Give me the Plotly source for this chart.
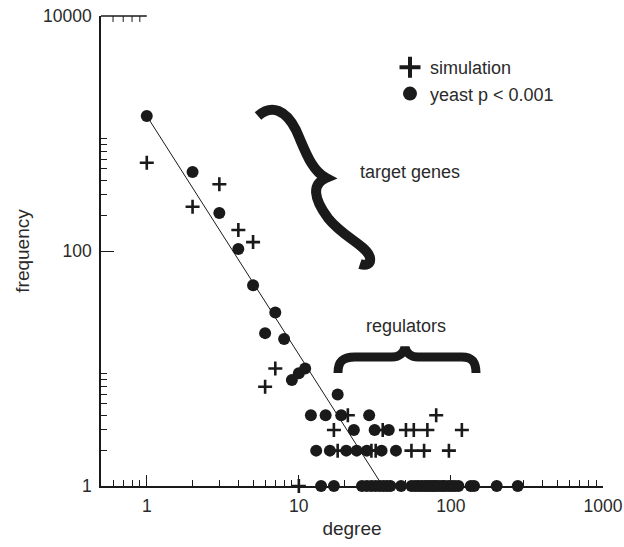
import math
import plotly.graph_objects as go

# ---------------- data ----------------
yeast_degree = [1, 2, 3, 4, 5, 6, 7, 8, 9, 10, 11, 18,
                12, 15, 19, 29,
                23, 31.5, 39,
                13, 16, 20.5, 24, 28, 35, 43.5,
                14, 17, 26, 28, 30, 32, 34, 36, 38, 40, 47, 55, 58, 61, 64, 67, 70, 73,
                76, 79, 83, 87, 91, 96, 101, 106, 112, 135, 142, 200, 275]
yeast_freq = [1410, 470, 211, 104, 51, 20, 30, 17.8, 8, 9.1, 10, 6,
              4, 4, 4, 4,
              3, 3, 3,
              2, 2, 2, 2, 2, 2, 2,
              1, 1, 1, 1, 1, 1, 1, 1, 1, 1, 1, 1, 1, 1, 1, 1, 1, 1,
              1, 1, 1, 1, 1, 1, 1, 1, 1, 1, 1, 1, 1]

sim_degree = [1, 2, 3, 4, 5, 6, 7, 10,
              21, 80,
              17, 35.6, 50.6, 57, 70, 118,
              18, 30, 32, 55, 66.6, 97]
sim_freq = [564, 238, 370, 151, 119, 7, 10, 1,
            4, 4,
            3, 3, 3, 3, 3, 3,
            2, 2, 2, 2, 2, 2]

# power-law fit line: freq = fit_a * degree^(-fit_b)
fit_a = 1410
fit_b = 2.03
fit_degree = [1, 35.4]
fit_freq = [fit_a * d ** (-fit_b) for d in fit_degree]

x_tick_vals = [1, 10, 100, 1000]
x_tick_text = ["1", "10", "100", "1000"]
y_tick_vals = [1, 100, 10000]
y_tick_text = ["1", "100", "10000"]
x_minor = [0.6, 0.7, 0.8, 0.9] + [m * 10 ** e for e in range(0, 3) for m in range(2, 10)]
y_minor = [m for m in range(2, 10)] + [m * 100 for m in range(2, 10)]

# ---------------- layout geometry ----------------
# plot area in page pixels: x 101..603, y 16..486 (page body margin removed below)
W, H = 624, 547
OFF = 0
P_LEFT, P_RIGHT, P_TOP, P_BOTTOM = 101, 603, 16, 486
ML, MT = P_LEFT - OFF, P_TOP - OFF
MR, MB = W - (P_RIGHT - OFF), H - (P_BOTTOM - OFF)
PW, PH = P_RIGHT - P_LEFT, P_BOTTOM - P_TOP

def px(xp):
    return (xp - P_LEFT) / PW

def py(yp):
    return (P_BOTTOM - yp) / PH

def path_from_pixels(cmds):
    out = []
    for c in cmds:
        if isinstance(c, str):
            out.append(c)
        else:
            out.append(f"{px(c[0]):.4f},{py(c[1]):.4f}")
    return " ".join(out)

INK = "#1a1a1a"
TXT = "#2a2a2a"
FONT = "Arial, Liberation Sans, Helvetica, sans-serif"

fig = go.Figure()

fig.add_trace(go.Scatter(
    x=fit_degree, y=fit_freq, mode="lines",
    line=dict(color=INK, width=1), showlegend=False, hoverinfo="skip"))

fig.add_trace(go.Scatter(
    x=sim_degree, y=sim_freq, mode="markers", name="simulation",
    marker=dict(symbol="cross-thin", size=10, line=dict(color=INK, width=2.6), color=INK),
    showlegend=False, cliponaxis=False))

fig.add_trace(go.Scatter(
    x=yeast_degree, y=yeast_freq, mode="markers", name="yeast p < 0.001",
    marker=dict(symbol="circle", size=12, color=INK),
    showlegend=False, cliponaxis=False))

# legend-only entries (larger symbols as in the reference)
fig.add_trace(go.Scatter(
    x=[None], y=[None], mode="markers", name="simulation", legendgroup="a",
    marker=dict(symbol="cross-thin", size=15, line=dict(color=INK, width=4), color=INK)))
fig.add_trace(go.Scatter(
    x=[None], y=[None], mode="markers", name="yeast p < 0.001", legendgroup="b",
    marker=dict(symbol="circle", size=14, color=INK)))

# braces
target_brace = path_from_pixels([
    "M", (258, 116),
    "C", (272, 104), (286, 110), (296, 130),
    "C", (305, 150), (311, 170), (326, 178),
    "C", (312, 184), (313, 198), (328, 218),
    "C", (344, 238), (368, 246), (370, 258),
    "C", (371, 264), (366, 266), (360, 264),
])
reg_brace = path_from_pixels([
    "M", (338, 373),
    "C", (338, 362), (342, 357), (355, 357),
    "L", (392, 357),
    "C", (400, 357), (404, 352), (405, 347),
    "C", (406, 352), (410, 357), (418, 357),
    "L", (462, 357),
    "C", (472, 357), (476, 362), (476, 373),
])
for p, w in [(target_brace, 10), (reg_brace, 9)]:
    fig.add_shape(type="path", path=p, xref="paper", yref="paper",
                  line=dict(color=INK, width=w), layer="above")

# short frame segments: top-left (with minor ticks) and bottom-right
fig.add_shape(type="line", xref="x", yref="paper", x0=0.5, x1=1, y0=1, y1=1,
              line=dict(color=INK, width=1.5))
for v in [0.6, 0.7, 0.8, 0.9]:
    fig.add_shape(type="line", xref="x", yref="paper", x0=v, x1=v, y0=1, y1=1 - 6 / PH,
                  line=dict(color=INK, width=1))
fig.add_shape(type="line", xref="paper", yref="y", x0=1, x1=1, y0=0, y1=math.log10(1.5),
              line=dict(color=INK, width=1.5))

fig.add_annotation(text="target genes", xref="paper", yref="paper",
                   x=px(410), y=py(172), xanchor="center", yanchor="middle", showarrow=False,
                   font=dict(family=FONT, size=18, color=TXT))
fig.add_annotation(text="regulators", xref="paper", yref="paper",
                   x=px(406), y=py(326), xanchor="center", yanchor="middle", showarrow=False,
                   font=dict(family=FONT, size=18, color=TXT))

axis_common = dict(
    type="log", showgrid=False, zeroline=False, showline=True, automargin=False,
    linecolor=INK, linewidth=1.5, ticks="inside", tickcolor=INK, tickwidth=1,
    tickfont=dict(family=FONT, size=17.5, color=TXT), mirror=False,
    ticklabeloverflow="allow",
)

fig.update_layout(
    width=W, height=H,
    margin=dict(l=ML, r=MR, t=MT, b=MB),
    paper_bgcolor="white", plot_bgcolor="white",
    font=dict(family=FONT, color=TXT),
    hovermode=False,
    xaxis=dict(axis_common, range=[math.log10(0.5), 3],
               tickmode="array", tickvals=x_tick_vals, ticktext=x_tick_text, ticklen=11,
               ticklabelstandoff=3,
               minor=dict(tickmode="array", tickvals=x_minor, ticks="inside", ticklen=6,
                          tickcolor=INK, tickwidth=1),
               title=dict(text="degree", font=dict(family=FONT, size=19, color=TXT), standoff=7)),
    yaxis=dict(axis_common, range=[0, 4],
               tickmode="array", tickvals=y_tick_vals, ticktext=y_tick_text, ticklen=13,
               ticklabelstandoff=4,
               minor=dict(tickmode="array", tickvals=y_minor, ticks="inside", ticklen=6,
                          tickcolor=INK, tickwidth=1),
               title=dict(text="frequency", font=dict(family=FONT, size=19, color=TXT), standoff=8)),
    legend=dict(x=px(390), y=py(49), xanchor="left", yanchor="top",
                bgcolor="rgba(0,0,0,0)", font=dict(family=FONT, size=18, color=TXT),
                traceorder="grouped", tracegroupgap=0, itemclick=False),
)

fig.write_html("out.html", config={"displayModeBar": False},
               post_script="document.body.style.margin='0';")
